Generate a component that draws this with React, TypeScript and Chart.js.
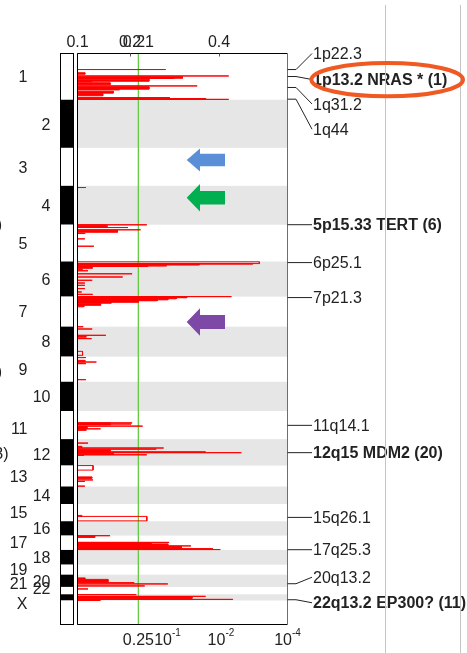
import React, { useEffect, useRef } from 'react';
import { Chart, registerables } from 'chart.js';

Chart.register(...registerables);

// ---------------- data ----------------
const chromosomes = ['1', '2', '3', '4', '5', '6', '7', '8', '9', '10', '11', '12', '13', '14', '15', '16', '17', '18', '19', '20', '21', '22', 'X'];
// chromosome lengths in Mb (as drawn)
const chromLengthsMb = [245, 255, 201, 206, 195, 186, 159, 159, 133, 155, 149, 140, 111, 93, 91, 76, 76, 78, 53, 65, 39, 33, 127];

// amplification profile: [chromosome, start Mb, end Mb, score]
const ampSegments: [string, number, number, number][] = [
  ['1', 85, 85, 0.42], ['1', 119, 119, 0.72], ['1', 132.5, 132.5, 0.46], ['1', 149.5, 149.5, 0.07],
  ['1', 171.7, 171.7, 0.57], ['1', 192, 192, 0.2], ['1', 234, 234, 0.44], ['1', 243, 243, 0.72],
  ['4', 9, 9, 0.04],
  ['5', 0.5, 0.5, 0.33], ['5', 15, 15, 0.24], ['5', 27, 27, 0.3], ['5', 75, 75, 0.035], ['5', 114, 114, 0.078],
  ['6', 1.5, 11, 0.866], ['6', 13, 13, 0.835], ['6', 17, 17, 0.58], ['6', 23, 23, 0.425], ['6', 26, 26, 0.335],
  ['6', 41, 41, 0.025], ['6', 49, 49, 0.05], ['6', 65, 65, 0.26], ['6', 82, 82, 0.215], ['6', 99.5, 99.5, 0.07],
  ['6', 114, 114, 0.035], ['6', 126, 126, 0.035], ['6', 143.5, 143.5, 0.035], ['6', 161.5, 161.5, 0.02], ['6', 174, 174, 0.072],
  ['7', 0, 0, 0.733],
  ['8', 0.5, 0.5, 0.027], ['8', 12.6, 12.6, 0.07], ['8', 46, 46, 0.135], ['8', 63.5, 63.5, 0.067], ['8', 131, 152, 0.024],
  ['9', 5, 5, 0.04], ['9', 28.5, 28.5, 0.09], ['9', 37, 37, 0.04], ['9', 122, 122, 0.04],
  ['11', 63, 63, 0.26], ['11', 69, 69, 0.255], ['11', 80, 80, 0.31], ['11', 94.5, 94.5, 0.11],
  ['12', 21, 21, 0.05], ['12', 47, 47, 0.41], ['12', 53, 53, 0.375], ['12', 67.5, 67.5, 0.61], ['12', 71.7, 71.7, 0.78],
  ['12', 83, 83, 0.33], ['12', 86, 86, 0.03],
  ['13', 0, 24, 0.074], ['13', 76, 76, 0.074], ['13', 84, 84, 0.035], ['13', 109, 109, 0.035],
  ['15', 60, 65, 0.02], ['15', 65.4, 89, 0.33],
  ['17', 0.6, 0.6, 0.155], ['17', 36, 36, 0.436], ['17', 54.7, 54.7, 0.54], ['17', 69.5, 69.5, 0.645], ['17', 74, 74, 0.68],
  ['20', 42.7, 42.7, 0.27], ['20', 49, 49, 0.43], ['20', 59.7, 59.7, 0.32],
  ['21', 10.6, 10.6, 0.05],
  ['22', 1.8, 1.8, 0.28], ['22', 11, 11, 0.61], ['22', 27, 27, 0.74],
];

// dense clusters of amplified markers: [chromosome, start Mb, end Mb, score]
const ampClusters: [string, number, number, number][] = [
  ['1', 102, 110, 0.035], ['1', 123, 131, 0.5], ['1', 136, 147, 0.34], ['1', 155, 165, 0.155],
  ['1', 176, 189, 0.34], ['1', 200, 210, 0.17], ['1', 213, 224, 0.12], ['1', 238.5, 242, 0.61],
  ['5', 3, 14, 0.14], ['5', 29.5, 40, 0.19], ['5', 45, 47, 0.035],
  ['6', 14, 17, 0.58], ['6', 31, 36, 0.07],
  ['7', 2.5, 6, 0.52], ['7', 6, 11.5, 0.47], ['7', 11.5, 17, 0.43], ['7', 17, 22, 0.38], ['7', 22, 30, 0.29],
  ['7', 30, 35, 0.16], ['7', 38, 46, 0.11], ['7', 46, 54, 0.03],
  ['8', 51, 56, 0.04],
  ['9', 19.5, 27.5, 0.035],
  ['11', 63, 73.5, 0.155], ['11', 81.5, 92, 0.045], ['11', 97, 102.5, 0.04],
  ['12', 38, 45, 0.02], ['12', 57, 65, 0.155], ['12', 75.5, 80.5, 0.17],
  ['13', 60, 68, 0.068],
  ['17', 2.7, 9.6, 0.082], ['17', 39, 44, 0.35], ['17', 44, 52, 0.43], ['17', 57, 68, 0.495],
  ['20', 17, 25, 0.035], ['20', 25, 38.5, 0.145],
  ['22', 14, 22, 0.545], ['22', 30, 33, 0.107],
];

const qThreshold = 0.29; // q = 0.25 significance line (score units)

const topTickValues = [0, 0.25, 0.29, 0.674];
const topTickLabels = ['0.1', '0.2', '0.21', '0.4'];
const bottomTickValues = [0.29, 0.4286, 0.683, 1];
const bottomTickBase = ['0.25', '10', '10', '10'];
const bottomTickExp = ['', '-1', '-2', '-4'];

const peakChroms = ['1', '1', '1', '1', '5', '6', '7', '11', '12', '15', '17', '20', '22'];
const peakPositionsMb = [85, 122, 180, 242, 0, 5.7, 5, 76, 71.7, 70.6, 74.8, 48, 28.8];
const peakNames = ['1p22.3', '1p13.2 NRAS * (1)', '1q31.2', '1q44', '5p15.33 TERT (6)', '6p25.1', '7p21.3', '11q14.1', '12q15 MDM2 (20)', '15q26.1', '17q25.3', '20q13.2', '22q13.2 EP300? (11)'];
const peakBold = [false, true, false, false, true, false, false, false, true, false, false, false, true];

// ---------------- layout (not data) ----------------
const W = 467;
const H = 653;
const peakLabelShift = [-16, 3, 16.5, 30, 0, 0, 0, 0, 0, 0, 0, -6.5, 3];
const chromLabelShift: Record<number, number> = { 10: 3, 11: 2, 20: -7, 21: -9, 22: -9 };
const FONT = '"Liberation Sans", Arial, sans-serif';

const offsets: Record<string, number> = {};
let acc = 0;
chromosomes.forEach((c, i) => { offsets[c] = acc; acc += chromLengthsMb[i]; });
const genomeTotal = acc;

function buildProfile(segs: [string, number, number, number][]) {
  const list = segs
    .map(([c, s, e, v]) => [offsets[c] + s, offsets[c] + e, v])
    .sort((a, b) => a[0] - b[0]);
  const pts: { x: number; y: number }[] = [{ x: 0, y: 0 }];
  for (const [s, e, v] of list) {
    pts.push({ x: 0, y: s }, { x: v, y: s }, { x: v, y: e }, { x: 0, y: e });
  }
  pts.push({ x: 0, y: genomeTotal });
  return pts;
}

const bandPlugin = {
  id: 'bands',
  beforeDatasetsDraw(chart: any) {
    const { ctx, chartArea } = chart;
    const y = chart.scales.y;
    ctx.save();
    chromosomes.forEach((c, i) => {
      if (i % 2 === 1 && c !== 'X') {
        const y0 = y.getPixelForValue(offsets[c]);
        const y1 = y.getPixelForValue(offsets[c] + chromLengthsMb[i]);
        ctx.fillStyle = '#e6e6e6';
        ctx.fillRect(chartArea.left, y0, chartArea.right - chartArea.left, y1 - y0);
      }
    });
    ctx.restore();
  },
};

function arrow(ctx: CanvasRenderingContext2D, tipX: number, cy: number, headX: number, tailX: number, headH: number, shaftH: number, color: string) {
  ctx.beginPath();
  ctx.moveTo(tipX, cy);
  ctx.lineTo(headX, cy - headH);
  ctx.lineTo(headX, cy - shaftH);
  ctx.lineTo(tailX, cy - shaftH);
  ctx.lineTo(tailX, cy + shaftH);
  ctx.lineTo(headX, cy + shaftH);
  ctx.lineTo(headX, cy + headH);
  ctx.closePath();
  ctx.fillStyle = color;
  ctx.fill();
}

const overlayPlugin = {
  id: 'overlay',
  afterDatasetsDraw(chart: any) {
    const { ctx, chartArea } = chart;
    const xs = chart.scales.x;
    const ys = chart.scales.y;
    const { left, right, top, bottom } = chartArea;
    ctx.save();

    // frame
    ctx.lineWidth = 1;
    ctx.strokeStyle = '#000';
    ctx.beginPath();
    ctx.moveTo(right, top); ctx.lineTo(left, top); ctx.lineTo(left, bottom); ctx.lineTo(right, bottom);
    ctx.stroke();
    ctx.strokeStyle = '#6e6e6e';
    ctx.beginPath();
    ctx.moveTo(right, top); ctx.lineTo(right, bottom);
    ctx.stroke();

    // top ticks + labels
    ctx.fillStyle = '#222';
    ctx.font = `16px ${FONT}`;
    ctx.textAlign = 'center';
    ctx.textBaseline = 'alphabetic';
    topTickValues.forEach((v, i) => {
      const px = xs.getPixelForValue(v);
      if (i === 1 || i === 3) {
        ctx.strokeStyle = '#555';
        ctx.beginPath();
        ctx.moveTo(Math.round(px) + 0.5, top);
        ctx.lineTo(Math.round(px) + 0.5, top + 3);
        ctx.stroke();
      }
      ctx.fillText(topTickLabels[i], px, 46.5);
    });

    // bottom labels
    bottomTickValues.forEach((v, i) => {
      const px = xs.getPixelForValue(v);
      const base = bottomTickBase[i];
      const exp = bottomTickExp[i];
      ctx.font = `16px ${FONT}`;
      const wb = ctx.measureText(base).width;
      ctx.font = `10px ${FONT}`;
      const we = exp ? ctx.measureText(exp).width : 0;
      const x0 = px - (wb + we) / 2;
      ctx.textAlign = 'left';
      ctx.font = `16px ${FONT}`;
      ctx.fillText(base, x0, 644.5);
      if (exp) {
        ctx.font = `10px ${FONT}`;
        ctx.fillText(exp, x0 + wb, 636);
      }
    });

    // ideogram
    const ideoL = left - 17;
    const ideoW = 13;
    chromosomes.forEach((c, i) => {
      const y0 = ys.getPixelForValue(offsets[c]);
      const y1 = ys.getPixelForValue(offsets[c] + chromLengthsMb[i]);
      ctx.fillStyle = i % 2 === 1 && c !== 'X' ? '#000' : '#fff';
      ctx.fillRect(ideoL, y0, ideoW, y1 - y0);
    });
    ctx.strokeStyle = '#000';
    ctx.strokeRect(ideoL, top, ideoW, bottom - top);

    // chromosome labels
    ctx.font = `16px ${FONT}`;
    ctx.fillStyle = '#222';
    ctx.textAlign = 'right';
    chromosomes.forEach((c, i) => {
      const yc = ys.getPixelForValue(offsets[c] + chromLengthsMb[i] / 2) + (chromLabelShift[i] || 0);
      const x = i % 2 === 0 ? left - 50 : left - 27;
      ctx.fillText(c, x, yc + 5.7);
    });
    // partially cut labels at the left margin
    ctx.fillText('(4)', 2, 224 + 5.7);
    ctx.fillText('(9)', 2, 371 + 5.7);
    ctx.fillText('(13)', 8.5, 453 + 5.7);

    // peak connectors + labels
    ctx.textAlign = 'left';
    peakNames.forEach((name, i) => {
      const py = ys.getPixelForValue(offsets[peakChroms[i]] + peakPositionsMb[i]);
      const ly = py + peakLabelShift[i];
      ctx.strokeStyle = '#222';
      ctx.lineWidth = 1;
      ctx.beginPath();
      ctx.moveTo(right, py);
      ctx.lineTo(right + 8.5, py);
      ctx.lineTo(right + 24.5, ly);
      ctx.stroke();
      ctx.font = `${peakBold[i] ? 'bold ' : ''}16px ${FONT}`;
      ctx.fillStyle = '#222';
      ctx.fillText(name, right + 25.5, ly + 5.7);
    });

    // right-hand grey guide lines
    ctx.strokeStyle = '#c4c4c4';
    ctx.lineWidth = 1;
    [385.5, 460.5].forEach((x) => {
      ctx.beginPath();
      ctx.moveTo(x, 5);
      ctx.lineTo(x, H);
      ctx.stroke();
    });

    // arrows
    arrow(ctx, 186.7, 160, 200, 225, 11.5, 6.3, '#5a8fd8');
    arrow(ctx, 186.7, 197.8, 200, 225, 13.8, 6.8, '#00b050');
    arrow(ctx, 186.7, 322, 200, 225, 13.7, 7, '#7e48a6');

    // highlight ellipse
    ctx.strokeStyle = '#f05a22';
    ctx.lineWidth = 4;
    ctx.beginPath();
    ctx.ellipse(387.2, 79.7, 75.8, 16.6, 0, 0, Math.PI * 2);
    ctx.stroke();

    ctx.restore();
  },
};

export default function App() {
  const ref = useRef<HTMLCanvasElement>(null);
  useEffect(() => {
    if (!ref.current) return;
    const chart = new Chart(ref.current, {
      type: 'line',
      data: {
        datasets: [
          {
            data: buildProfile(ampClusters),
            borderColor: '#ff0000',
            backgroundColor: '#ff0000',
            borderWidth: 1,
            fill: 'origin',
            pointRadius: 0,
          },
          {
            data: buildProfile(ampSegments),
            borderColor: '#ff0000',
            borderWidth: 1,
            fill: false,
            pointRadius: 0,
          },
          {
            data: [{ x: qThreshold, y: 0 }, { x: qThreshold, y: genomeTotal }],
            borderColor: '#66cc44',
            borderWidth: 1,
            fill: false,
            pointRadius: 0,
          },
        ],
      } as any,
      options: {
        indexAxis: 'y',
        responsive: false,
        animation: false,
        devicePixelRatio: 1,
        layout: { padding: { left: 77.5, top: 53.5, right: W - 287.5, bottom: H - 624.5 } },
        scales: {
          x: { type: 'linear', min: 0, max: 1, display: false },
          y: { type: 'linear', min: 0, max: genomeTotal, reverse: true, display: false },
        },
        plugins: { legend: { display: false }, tooltip: { enabled: false } },
        elements: { line: { tension: 0 } },
      } as any,
      plugins: [bandPlugin, overlayPlugin],
    });
    return () => chart.destroy();
  }, []);
  return (
    <div style={{ position: 'absolute', left: 0, top: 0, width: W, height: H, background: '#fff' }}>
      <canvas ref={ref} width={W} height={H} style={{ display: 'block' }} />
    </div>
  );
}
